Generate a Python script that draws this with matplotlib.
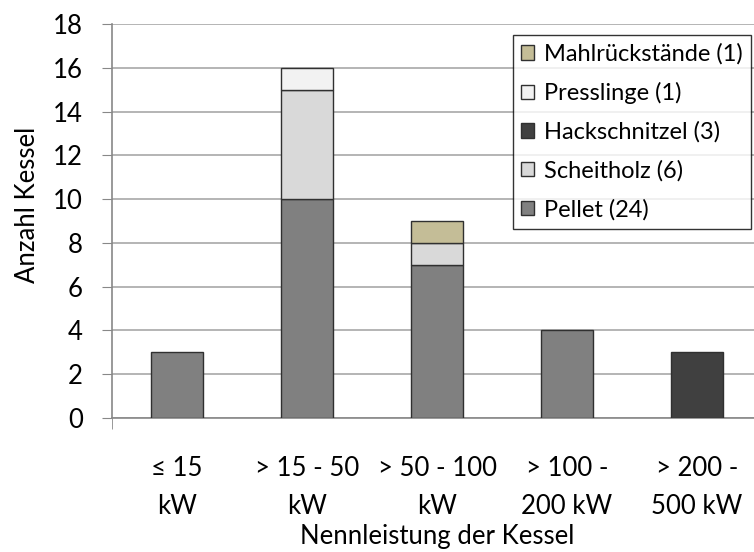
import matplotlib
matplotlib.use('Agg')
import numpy as np
import matplotlib.pyplot as plt

plt.rcParams['font.family'] = ['Lato', 'DejaVu Sans']

categories = ['≤ 15\nkW', '> 15 - 50\nkW', '> 50 - 100\nkW', '> 100 -\n200 kW', '> 200 -\n500 kW']
pellet = [3, 10, 7, 4, 0]
scheitholz = [0, 5, 1, 0, 0]
hackschnitzel = [0, 0, 0, 0, 3]
presslinge = [0, 1, 0, 0, 0]
mahlrueckstaende = [0, 0, 1, 0, 0]

series = [
    ('Pellet (24)', pellet, '#808080'),
    ('Scheitholz (6)', scheitholz, '#d9d9d9'),
    ('Hackschnitzel (3)', hackschnitzel, '#404040'),
    ('Presslinge (1)', presslinge, '#f2f2f2'),
    ('Mahlrückstände (1)', mahlrueckstaende, '#c4bd97'),
]

fs = 18.5

fig = plt.figure(figsize=(7.54, 5.52), dpi=100)
ax = fig.add_axes([112/754, 1 - 418/552, 650/754, 394/552])

idx = np.arange(len(categories))
width = 0.4
bottom = np.zeros(len(categories))
handles = []
for label, vals, color in series:
    vals = np.array(vals, dtype=float)
    b = ax.bar(idx, vals, width, bottom=bottom, color=color,
               edgecolor='#303030', linewidth=1, label=label, zorder=3)
    handles.append(b)
    bottom += vals

ax.set_xlim(-0.5, 4.5)
ax.set_ylim(0, 18)
ax.set_yticks(range(0, 19, 2))
ax.yaxis.grid(color='#a8a8a8', linewidth=1.2, zorder=0)
ax.set_xticks(idx)
ax.set_xticklabels(categories, fontsize=fs, linespacing=1.7)
ax.set_xticks([-0.5], minor=True)
ax.tick_params(axis='x', which='major', length=0, pad=27)
ax.tick_params(axis='x', which='minor', length=8, color='#888888')
ax.tick_params(axis='y', labelsize=fs, length=7, color='#888888', pad=14)

for s in ['top', 'right']:
    ax.spines[s].set_visible(False)
ax.spines['left'].set_color('#888888')
ax.spines['bottom'].set_color('#888888')
ax.spines['left'].set_linewidth(1.2)
ax.spines['bottom'].set_linewidth(1.2)

ax.set_ylabel('Anzahl Kessel', fontsize=fs)
ax.yaxis.set_label_coords(-0.111, 0.54)
ax.set_xlabel('Nennleistung der Kessel', fontsize=fs)
ax.xaxis.set_label_coords(0.5, -(524 - 418) / 394)

leg = fig.legend(handles[::-1], [h.get_label() for h in handles[::-1]],
                 loc='upper left', bbox_to_anchor=(513/754, 1 - 35/552),
                 fontsize=17, frameon=True, fancybox=False,
                 handlelength=0.55, handleheight=0.55, handletextpad=0.4,
                 labelspacing=0.73, borderpad=0.35, borderaxespad=0)
leg.get_frame().set_edgecolor('black')
leg.get_frame().set_linewidth(1)

# empty segments: drop their outline so no stray lines sit on the bar tops
for b in handles:
    for patch in b:
        if patch.get_height() == 0:
            patch.set_linewidth(0)

plt.savefig('out.png', dpi=100)
